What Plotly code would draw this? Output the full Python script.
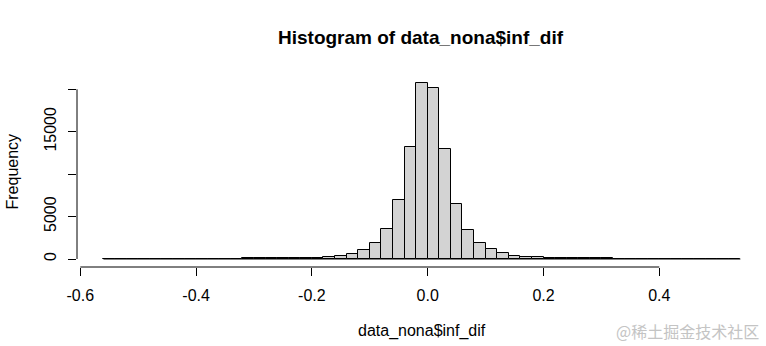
import numpy as np
import plotly.graph_objects as go

# Histogram of data_nona$inf_dif: bins of width 0.02 from -0.56 to 0.54
bin_start = -0.56
bin_width = 0.02
counts = [
    1, 0, 0, 1, 0, 1, 1, 0, 2, 2,
    3, 5, 70, 75, 80, 90, 100, 115, 140, 210,
    340, 590, 1020, 1850, 3500, 6920, 13160, 20780, 20120, 12930,
    6440, 3380, 1850, 1140, 690, 350, 235, 190, 160, 130,
    110, 95, 85, 75, 4, 3, 2, 1, 1, 0,
    1, 0, 0, 0, 1,
]
x_ticks = [-0.6, -0.4, -0.2, 0.0, 0.2, 0.4]
x_tick_labels = ["-0.6", "-0.4", "-0.2", "0.0", "0.2", "0.4"]
y_ticks = [0, 5000, 10000, 15000, 20000]
y_tick_labels = ["0", "5000", "", "15000", ""]

edges = np.round(bin_start + bin_width * np.arange(len(counts) + 1), 4)
centers = (edges[:-1] + edges[1:]) / 2

W, H = 766, 346
L, R, T, B = 77, 0, 60, 79
FONT = "Liberation Sans, Arial, sans-serif"

fig = go.Figure()

fig.add_trace(go.Bar(
    x=centers,
    y=counts,
    width=bin_width,
    marker=dict(color="#D3D3D3", line=dict(color="black", width=1)),
    hoverinfo="x+y",
    showlegend=False,
))

# zero-height bins still show as a line along the baseline
fig.add_shape(type="line", xref="x", yref="y",
              x0=edges[0], x1=edges[-1], y0=0, y1=0,
              line=dict(color="black", width=1), layer="below")

# axis lines only span the first to last tick
fig.add_shape(type="line", xref="x", yref="paper",
              x0=x_ticks[0], x1=x_ticks[-1], y0=0, y1=0,
              line=dict(color="black", width=1))
fig.add_shape(type="line", xref="paper", yref="y",
              x0=0, x1=0, y0=y_ticks[0], y1=y_ticks[-1],
              line=dict(color="black", width=1))

plot_w = W - L - R
plot_h = H - T - B
px_per_x = 579.0
x_zero_px = 427.7 - L
x_range = [-x_zero_px / px_per_x, (plot_w - x_zero_px) / px_per_x]
px_per_count = (259 - 89.3) / 20000
y_zero_from_bottom = 267 - 259
y_range = [-y_zero_from_bottom / px_per_count, (plot_h - y_zero_from_bottom) / px_per_count]

fig.update_layout(
    width=W, height=H,
    margin=dict(l=L, r=R, t=T, b=B, pad=0),
    paper_bgcolor="white",
    plot_bgcolor="white",
    font=dict(family=FONT, size=16, color="black"),
    xaxis=dict(
        range=x_range, showgrid=False, zeroline=False, showline=False,
        tickmode="array", tickvals=x_ticks, ticktext=x_tick_labels,
        ticks="outside", ticklen=8, tickwidth=1, tickcolor="black",
        ticklabelstandoff=6,
        tickfont=dict(family=FONT, size=16, color="black"),
    ),
    yaxis=dict(
        range=y_range, showgrid=False, zeroline=False, showline=False,
        tickmode="array", tickvals=y_ticks, ticktext=y_tick_labels,
        ticks="outside", ticklen=8, tickwidth=1, tickcolor="black",
        tickangle=-90, ticklabelstandoff=6,
        tickfont=dict(family=FONT, size=16, color="black"),
    ),
    bargap=0,
    annotations=[
        dict(text="<b>Histogram of data_nona$inf_dif</b>", xref="paper", yref="paper",
             x=(421 - L) / plot_w, y=(H - B - 38) / plot_h,
             xanchor="center", yanchor="middle", showarrow=False,
             font=dict(family=FONT, size=19, color="black")),
        dict(text="data_nona$inf_dif", xref="paper", yref="paper",
             x=(421.5 - L) / plot_w, y=(H - B - 331) / plot_h,
             xanchor="center", yanchor="middle", showarrow=False,
             font=dict(family=FONT, size=16, color="black")),
        dict(text="Frequency", xref="paper", yref="paper",
             x=(12 - L) / plot_w, y=(H - B - 171.5) / plot_h,
             xanchor="center", yanchor="middle", textangle=-90, showarrow=False,
             font=dict(family=FONT, size=16, color="black")),
        dict(text="@稀土掘金技术社区", xref="paper", yref="paper",
             x=(687 - L) / plot_w, y=(H - B - 331) / plot_h,
             xanchor="center", yanchor="middle", showarrow=False,
             font=dict(family="Noto Sans CJK SC", size=16, color="#c4c4c4")),
    ],
)

fig.write_html("out.html")
